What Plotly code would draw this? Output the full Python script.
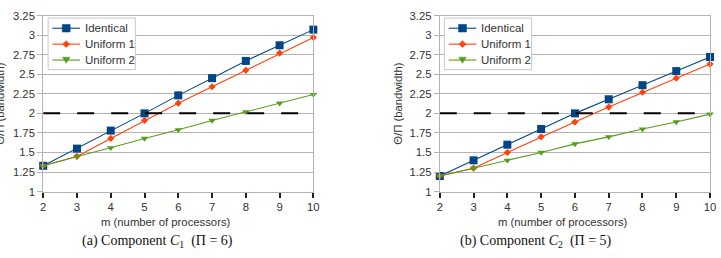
import plotly.graph_objects as go

m = [2, 3, 4, 5, 6, 7, 8, 9, 10]

# Component C1 (Pi = 6)
c1_identical = [1.33, 1.55, 1.78, 2.0, 2.23, 2.45, 2.67, 2.87, 3.07]
c1_uniform1 = [1.33, 1.45, 1.68, 1.91, 2.13, 2.34, 2.55, 2.77, 2.97]
c1_uniform2 = [1.33, 1.45, 1.56, 1.68, 1.79, 1.91, 2.02, 2.13, 2.24]

# Component C2 (Pi = 5)
c2_identical = [1.2, 1.4, 1.6, 1.8, 2.0, 2.18, 2.36, 2.54, 2.72]
c2_uniform1 = [1.2, 1.3, 1.5, 1.7, 1.89, 2.08, 2.27, 2.45, 2.63]
c2_uniform2 = [1.2, 1.3, 1.4, 1.5, 1.61, 1.7, 1.8, 1.89, 1.99]

threshold = 2.0
series_names = ["Identical", "Uniform 1", "Uniform 2"]
colors = ["#004586", "#ff420e", "#579d1c"]
symbols = ["square", "diamond", "triangle-down"]
msizes = [8, 5.5, 6.5]

x_ticks = [2, 3, 4, 5, 6, 7, 8, 9, 10]
y_ticks = [1, 1.25, 1.5, 1.75, 2, 2.25, 2.5, 2.75, 3, 3.25]
y_ticklabels = ["1", "1.25", "1.5", "1.75", "2", "2.25", "2.5", "2.75", "3", "3.25"]

W, H = 721, 258
FONT = "Liberation Sans, Arial, sans-serif"
SERIF = "Liberation Serif, Times New Roman, serif"
TXT = "#333333"
GRID = "#b3b3b3"
FS = 11.3

fig = go.Figure()

panels = [
    (c1_identical, c1_uniform1, c1_uniform2, "x", "y"),
    (c2_identical, c2_uniform1, c2_uniform2, "x2", "y2"),
]
for ident, u1, u2, xa, ya in panels:
    for name, vals, col, sym, ms in zip(series_names, [ident, u1, u2], colors, symbols, msizes):
        fig.add_trace(go.Scatter(
            x=m, y=vals, name=name, mode="lines+markers",
            line=dict(color=col, width=1.1),
            marker=dict(symbol=sym, size=ms, color=col),
            xaxis=xa, yaxis=ya, showlegend=False, cliponaxis=False,
        ))
    fig.add_trace(go.Scatter(
        x=[m[0], m[-1]], y=[threshold, threshold], mode="lines",
        line=dict(color="black", width=2, dash="17px,17px"),
        xaxis=xa, yaxis=ya, showlegend=False, hoverinfo="skip",
    ))

ydom = [(H - 194.7) / H, (H - 10) / H]
xdom1 = [40.7 / W, 314.3 / W]
xdom2 = [442.3 / W, 716 / W]


def xaxis_cfg(dom, anchor):
    return dict(
        domain=dom, anchor=anchor, range=[2, 10], tickvals=x_ticks,
        showgrid=False, zeroline=False, showline=True, linecolor=GRID, linewidth=1,
        mirror=True, ticks="outside", ticklen=5, tickwidth=2, tickcolor="#222222",
        tickfont=dict(family=FONT, size=FS, color=TXT),
    )


def yaxis_cfg(anchor):
    return dict(
        domain=ydom, anchor=anchor, range=[1, 3.25], tickvals=y_ticks, ticktext=y_ticklabels,
        showgrid=True, gridcolor=GRID, gridwidth=1, zeroline=False,
        showline=True, linecolor=GRID, linewidth=1, mirror=True,
        ticks="outside", ticklen=5, tickcolor=GRID,
        tickfont=dict(family=FONT, size=FS, color=TXT),
    )


fig.update_layout(
    width=W, height=H, margin=dict(l=0, r=0, t=0, b=0),
    paper_bgcolor="white", plot_bgcolor="white",
    xaxis=xaxis_cfg(xdom1, "y"), yaxis=yaxis_cfg("x"),
    xaxis2=xaxis_cfg(xdom2, "y2"), yaxis2=yaxis_cfg("x2"),
    showlegend=False,
)


def px(x):
    return x / W


def py(y):
    return (H - y) / H


# Hand-built legend boxes (LibreOffice-style compact legend)
shapes = []
legend_anns = []
row_y = [23.3, 40.0, 56.7]
for left in [45.7, 447.0]:
    shapes.append(dict(type="rect", xref="paper", yref="paper",
                       x0=px(left), x1=px(left + 88.3), y0=py(66.7), y1=py(12.7),
                       line=dict(color="#c8c8c8", width=1), fillcolor="white", layer="above"))
    for name, col, sym, yy in zip(series_names, colors, symbols, row_y):
        lx0, lx1 = left + 4.3, left + 32.3
        cx = (lx0 + lx1) / 2
        shapes.append(dict(type="line", xref="paper", yref="paper",
                           x0=px(lx0), x1=px(lx1), y0=py(yy), y1=py(yy),
                           line=dict(color=col, width=1.1), layer="above"))
        if sym == "square":
            r = 4
            path = f"M {px(cx - r)},{py(yy - r)} L {px(cx + r)},{py(yy - r)} L {px(cx + r)},{py(yy + r)} L {px(cx - r)},{py(yy + r)} Z"
        elif sym == "diamond":
            r = 3.6
            path = f"M {px(cx)},{py(yy - r)} L {px(cx + r)},{py(yy)} L {px(cx)},{py(yy + r)} L {px(cx - r)},{py(yy)} Z"
        else:
            r = 3.8
            path = f"M {px(cx - r)},{py(yy - r * 0.8)} L {px(cx + r)},{py(yy - r * 0.8)} L {px(cx)},{py(yy + r * 0.9)} Z"
        shapes.append(dict(type="path", xref="paper", yref="paper", path=path,
                           fillcolor=col, line=dict(color=col, width=0.5), layer="above"))
        legend_anns.append(dict(x=px(left + 35), y=py(yy), text=name, xanchor="left",
                                font=dict(family=FONT, size=11.5, color=TXT)))

fig.update_layout(shapes=shapes)

anns = legend_anns + [
    dict(x=px(165), y=py(227), text="m (number of processors)", font=dict(family=FONT, size=FS, color=TXT)),
    dict(x=px(567), y=py(227), text="m (number of processors)", font=dict(family=FONT, size=FS, color=TXT)),
    dict(x=px(156), y=py(247), text="(a) Component <i>C</i><sub>1</sub>  (Π = 6)",
         font=dict(family=SERIF, size=14, color="#111111")),
    dict(x=px(540), y=py(247), text="(b) Component <i>C</i><sub>2</sub>  (Π = 5)",
         font=dict(family=SERIF, size=14, color="#111111")),
    dict(x=px(-3), y=py(102.5), text="Θ/Π (bandwidth)", textangle=-90,
         font=dict(family=FONT, size=FS, color=TXT)),
    dict(x=px(400), y=py(102.5), text="Θ/Π (bandwidth)", textangle=-90,
         font=dict(family=FONT, size=FS, color=TXT)),
]
for a in anns:
    a.setdefault("xanchor", "center")
    fig.add_annotation(xref="paper", yref="paper", yanchor="middle", showarrow=False, **a)

fig.write_html("out.html")
